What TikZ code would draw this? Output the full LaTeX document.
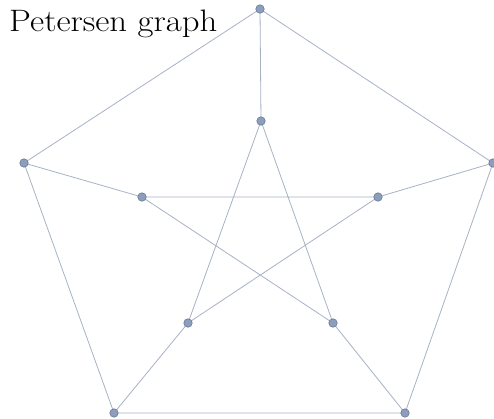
\documentclass[tikz,border=0pt]{standalone}
\definecolor{edgecol}{RGB}{166,178,196}
\definecolor{vertfill}{RGB}{140,158,188}
\definecolor{vertdraw}{RGB}{98,112,140}
\tikzset{
  vertex/.style={circle, fill=vertfill, draw=vertdraw, line width=0.5pt, inner sep=0pt, minimum size=8.5pt},
  edge/.style={draw=edgecol, line width=0.8pt}
}
\begin{document}
\begin{tikzpicture}[x=1pt, y=-1pt]
	\useasboundingbox (0,0) rectangle (494,418);
	
	% outer pentagon
	\coordinate (o1) at (260,9);
	\coordinate (o2) at (493,163);
	\coordinate (o3) at (405,413);
	\coordinate (o4) at (114,413);
	\coordinate (o5) at (24,163);
	% inner star
	\coordinate (i1) at (261,121);
	\coordinate (i2) at (378,197);
	\coordinate (i3) at (333,323);
	\coordinate (i4) at (188,323);
	\coordinate (i5) at (142,197);
	
	\draw[edge] (o1) -- (o2) -- (o3) -- (o4) -- (o5) -- cycle;
	\foreach \n in {1,...,5}
	\draw[edge] (o\n) -- (i\n);
	\draw[edge] (i1) -- (i3) -- (i5) -- (i2) -- (i4) -- cycle;
	
	\foreach \n in {1,...,5} {
	\node[vertex] (vo\n) at (o\n) {};
	\node[vertex] (vi\n) at (i\n) {};
	}
	
	\node[anchor=base west, inner sep=0pt, xscale=1.12] (title) at (9,31.7) {\fontsize{31}{32}\selectfont Petersen graph};
	\end{tikzpicture}
\end{document}
